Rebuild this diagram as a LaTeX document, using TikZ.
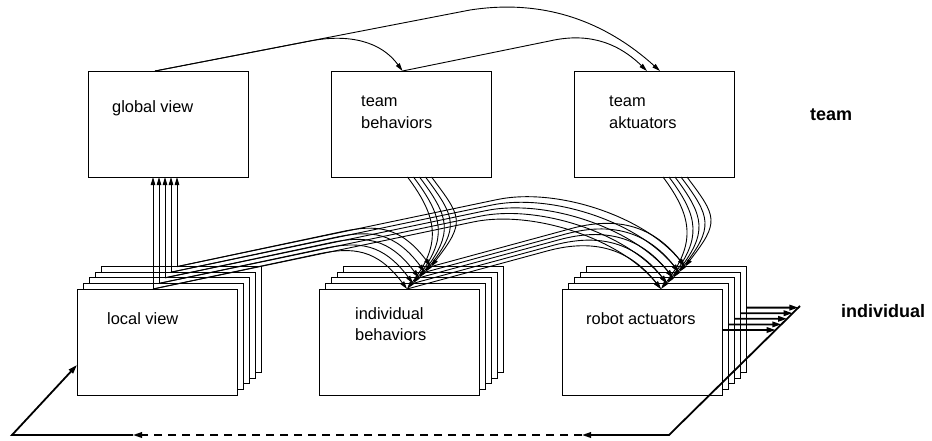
\documentclass[tikz,border=0pt]{standalone}
\usepackage{fontspec}
\setmainfont{Liberation Sans}
\usetikzlibrary{arrows.meta,calc}

\begin{document}
\begin{tikzpicture}[x=1pt,y=-1pt,
  box/.style={draw, line width=0.9pt, fill=white, minimum width=160pt,
    minimum height=106pt, inner sep=0pt, outer sep=0pt},
  lbl/.style={anchor=north west, inner sep=0pt, align=left,
    font=\fontsize{16.4}{21.5}\selectfont},
  level/.style={anchor=base west, inner sep=0pt,
    font=\fontsize{18}{22}\selectfont\bfseries},
  link/.style={line width=0.9pt, -{Triangle[length=8pt,width=4.5pt]}},
  flow/.style={line width=1.8pt},
  flowarrow/.style={flow, -{Triangle[length=9pt,width=5.5pt]}},
]
\useasboundingbox (0,0) rectangle (932,440);

% team level boxes
\node[box] (gv) at (168,124) {};
\node[box] (tb) at (411.5,124) {};
\node[box] (ta) at (654,124) {};

% individual level: five stacked copies each, back to front
\foreach \i in {4,3,2,1,0} {
  \node[box] (lv\i) at ({157+6*\i},{342-5.6*\i}) {};
  \node[box] (ib\i) at ({399+6*\i},{342-5.6*\i}) {};
  \node[box] (ra\i) at ({642+6*\i},{342-5.6*\i}) {};
}

% box texts (placed by the top of their first line)
\node[lbl] (gvt) at (112,100) {global view};
\node[lbl] (tbt) at (361,96) {team\\behaviors};
\node[lbl] (tat) at (609,96) {team\\aktuators};
\node[lbl] (lvt) at (107,312) {local view};
\node[lbl] (ibt) at (355,307) {individual\\behaviors};
\node[lbl] (rat) at (586,312.5) {robot actuators};

% level names
\node[level] (teamlvl) at (810,120) {team};
\node[level] (indlvl) at (841,317.5) {individual};

% ports
\coordinate (gvo) at ($(gv.north west)+(67,0)$);
\coordinate (tbi) at ($(tb.north west)+(71,0)$);
\coordinate (tai1) at ($(ta.north west)+(73,0)$);
\coordinate (tai2) at ($(ta.north west)+(86,0)$);
\coordinate (wtop) at (800,306);
\coordinate (wbot) at (669,435);
\coordinate (fb1) at (582,435);
\coordinate (fb2) at (133,435);
\coordinate (fbc) at (12,435);
\coordinate (lvin) at ($(lv0.north west)+(0,76)$);

\foreach \i in {0,...,4} {
  \coordinate (lvp\i) at ($(lv\i.north west)+(76,0)$);
  \coordinate (ibp\i) at ($(ib\i.north west)+(88,0)$);
  \coordinate (rap\i) at ($(ra\i.north west)+(99,0)$);
  \coordinate (tbp\i) at ($(tb.south west)+({76+6*\i},0)$);
  \coordinate (tap\i) at ($(ta.south west)+({89+6*\i},0)$);
  \coordinate (rao\i) at ($(ra\i.north east)+(0,41)$);
  \coordinate (hit\i) at ($(wtop)!{(24-5.6*\i)/129}!(wbot)$);
}

% team level links
\draw[link] (gvo) -- ++(155,-30) .. controls +(40,-7.7) and +(-21,-29) .. (tbi);
\draw[link] (gvo) -- ++(315,-61) .. controls +(90,-14) and +(-40,-36) .. (tai2);
\draw[link] (tbi) -- ++(147,-30) .. controls +(35,-8) and +(-32,-31) .. (tai1);

% links between the levels and within the individual level
\foreach \i in {0,...,4} {
  \draw[link] (lvp\i) -- (lvp\i |- gv.south);
  \draw[link] (lvp\i) -- ++(165,-35) .. controls +(35,-7.4) and +(-30,-40) .. (ibp\i);
  \draw[link] (lvp\i) -- ++(320,-67) .. controls +(60,-12.6) and +(-40,-50) .. (rap\i);
  \draw[link] (ibp\i) -- ++(140,-38) .. controls +(40,-10.9) and +(-35,-45) .. (rap\i);
  \draw[link] (tbp\i) .. controls +(30,40) and +(35,-45) .. (ibp\i);
  \draw[link] (tap\i) .. controls +(30,40) and +(35,-45) .. (rap\i);
  \draw[flowarrow] (rao\i) -- (hit\i);
}

% feedback through the environment
\draw[flowarrow] (wtop) -- (wbot) -- (fb1);
\draw[flowarrow, dash pattern=on 8pt off 6pt] (fb1) -- (fb2);
\draw[flowarrow] (fb2) -- (fbc) -- (lvin);
\end{tikzpicture}
\end{document}
